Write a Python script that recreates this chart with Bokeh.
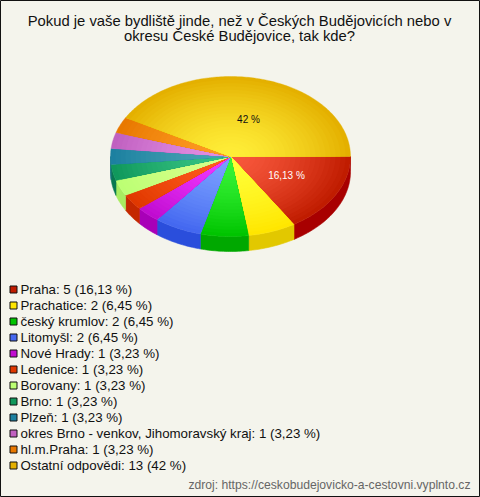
import math
from bokeh.plotting import figure
from bokeh.core.properties import value
from bokeh.embed import file_html
from bokeh.resources import INLINE

title_lines = ["Pokud je vaše bydliště jinde, než v Českých Budějovicích nebo v",
               "okresu České Budějovice, tak kde?"]
categories = ["Praha", "Prachatice", "český krumlov", "Litomyšl", "Nové Hrady", "Ledenice",
              "Borovany", "Brno", "Plzeň", "okres Brno - venkov, Jihomoravský kraj",
              "hl.m.Praha", "Ostatní odpovědi"]
counts = [5, 2, 2, 2, 1, 1, 1, 1, 1, 1, 1, 13]
percents = ["16,13", "6,45", "6,45", "6,45", "3,23", "3,23", "3,23", "3,23", "3,23", "3,23", "3,23", "42"]
source_text = "zdroj: https://ceskobudejovicko-a-cestovni.vyplnto.cz"

centre_colors = ["#F8583C", "#FFFF38", "#38F438", "#7AA0FF", "#F038FF", "#FF5C1C",
                 "#D8FF8C", "#38C484", "#48A4B4", "#E490E4", "#FF9C24", "#FFEE38"]
edge_colors = ["#C01C00", "#FFE600", "#00C400", "#4468F0", "#C00CD0", "#E03800",
               "#BCFF74", "#10985C", "#1C80A0", "#C060C0", "#E87800", "#E4B000"]
side_colors = ["#A80000", "#E2C800", "#00A800", "#2A4EDC", "#A800B8", "#C42800",
               "#A8EC60", "#087850", "#0C6C80", "#A050A0", "#C86000", "#C09000"]

BG = "#F4F4EC"
W, H = 480, 497
CX, CY, RX, RY, DEPTH = 230, 156, 120, 80, 15

p = figure(width=W, height=H, x_range=(0, W), y_range=(H, 0), toolbar_location=None,
           output_backend="svg", background_fill_color=BG, border_fill_color=BG,
           outline_line_color="#111111", outline_line_width=1, min_border=0)
p.axis.visible = False
p.grid.visible = False


def hex2rgb(c):
    return tuple(int(c[i:i + 2], 16) for i in (1, 3, 5))


def mix(a, b, t):
    ra, rb = hex2rgb(a), hex2rgb(b)
    return "#%02x%02x%02x" % tuple(round(x + (y - x) * t) for x, y in zip(ra, rb))


def arc(t0, t1, step=1.0):
    n = max(2, int(abs(t1 - t0) / step) + 1)
    return [math.radians(t0 + (t1 - t0) * i / (n - 1)) for i in range(n)]


total = sum(counts)
angles = [0.0]
for c in counts:
    angles.append(angles[-1] + 360.0 * c / total)

# side wall (front half only)
for i in range(len(counts)):
    a0, a1 = angles[i], min(angles[i + 1], 180.0)
    if a0 >= 180.0:
        continue
    ts = arc(a0, a1)
    xs = [CX + RX * math.cos(t) for t in ts]
    ys = [CY + RY * math.sin(t) for t in ts]
    p.patch(xs + xs[::-1], ys + [y + DEPTH for y in ys[::-1]], fill_color=side_colors[i],
            line_color=side_colors[i], line_width=0.6)

# top faces: concentric wedges painted from the rim inward give a radial gradient
RINGS = 24
for i in range(len(counts)):
    ts = arc(angles[i], angles[i + 1])
    for k in range(RINGS, 0, -1):
        f = k / RINGS
        col = mix(centre_colors[i], edge_colors[i], f ** 1.5)
        xs = [CX] + [CX + RX * f * math.cos(t) for t in ts]
        ys = [CY] + [CY + RY * f * math.sin(t) for t in ts]
        if k == RINGS:
            p.patch(xs, ys, fill_color=col, line_color=col, line_width=0.4)
        else:
            p.patch(xs, ys, fill_color=col, line_color=None)

font = value("Liberation Sans")
p.text([239], [20], text=[title_lines[0]], text_font=font, text_font_size="14.8px", text_align="center",
       text_baseline="middle", text_color="#111111")
p.text([239], [35], text=[title_lines[1]], text_font=font, text_font_size="14.8px", text_align="center",
       text_baseline="middle", text_color="#111111")

p.text([286], [175], text=[percents[0] + " %"], text_font=font, text_font_size="10px", text_align="center",
       text_baseline="middle", text_color="#FFFFFF")
p.text([248], [119], text=[percents[-1] + " %"], text_font=font, text_font_size="10px", text_align="center",
       text_baseline="middle", text_color="#111111")

# legend
rows = [289 + 16 * i for i in range(len(categories))]
p.rect([13] * len(rows), rows, width=7, height=7, fill_color=edge_colors, line_color="#111111", line_width=1)
labels = ["%s: %d (%s %%)" % (n, c, s) for n, c, s in zip(categories, counts, percents)]
p.text([20] * len(rows), rows, text=labels, text_font=font, text_font_size="13.3px", text_align="left",
       text_baseline="middle", text_color="#111111")

p.text([470], [484], text=[source_text], text_font=font, text_font_size="12.15px", text_align="right",
       text_baseline="middle", text_color="#666666")

open("out.html", "w").write(file_html(p, INLINE))
